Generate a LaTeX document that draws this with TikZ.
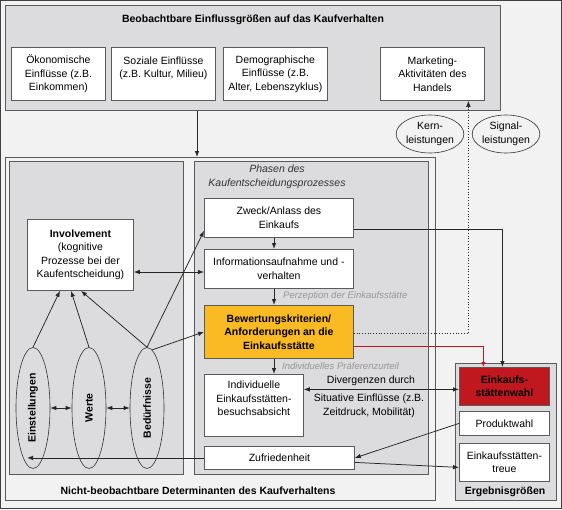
\documentclass[tikz,border=0pt]{standalone}
\usepackage{fontspec}
\setmainfont{Liberation Sans}
\usepackage{graphicx}
\usetikzlibrary{arrows.meta,shapes.geometric}
\definecolor{bggray}{RGB}{242,242,242}
\definecolor{panelgray}{RGB}{220,220,222}
\definecolor{linegray}{RGB}{90,90,90}
\definecolor{notegray}{RGB}{150,150,150}
\definecolor{bforange}{RGB}{250,186,36}
\definecolor{bfred}{RGB}{193,24,32}

\begin{document}
\begin{tikzpicture}[x=1pt,y=-1pt,
    every node/.style={font=\fontsize{10.5}{13.5}\selectfont},
    >={Latex[length=6pt,width=4.5pt]},
    panel/.style={draw=linegray,fill=panelgray,line width=.8pt,anchor=north west,inner sep=0pt},
    stage/.style={draw=linegray,fill=white,line width=.8pt,align=center,inner sep=0pt,anchor=north west},
    oval/.style={ellipse,draw=black!80,line width=.6pt,inner sep=0pt},
    heading/.style={font=\fontsize{10.5}{13.5}\selectfont\bfseries},
    note/.style={font=\fontsize{9.5}{12}\selectfont\itshape,text=notegray,anchor=west,inner sep=0pt},
    flow/.style={->,draw=black!85,line width=.75pt}]
                \useasboundingbox (0,0) rectangle (562,509);
                \draw[draw=black!75,fill=bggray] (0.5,0.5) rectangle (561.5,508.5);

                % observable influences
                \node[panel,minimum width=495,minimum height=105] (obs) at (5,5) {};
                \node[heading] at (253,20) {Beobachtbare Einflussgrößen auf das Kaufverhalten};
                \node[stage,minimum width=94,minimum height=53] (oeko) at (11,47) {Ökonomische\\Einflüsse (z.B.\\Einkommen)};
                \node[stage,minimum width=104,minimum height=53] (sozial) at (111,47) {Soziale Einflüsse\\(z.B. Kultur, Milieu)\\\mbox{}};
                \node[stage,minimum width=104,minimum height=53] (demo) at (223,47) {Demographische\\Einflüsse (z.B.\\Alter, Lebenszyklus)};
                \node[stage,minimum width=104,minimum height=53] (mkt) at (380,47) {Marketing-\\Aktivitäten des\\Handels};

                \node[oval,minimum width=66,minimum height=38,align=center] (kern) at (430,134) {Kern-\\leistungen};
                \node[oval,minimum width=66,minimum height=38,align=center] (signal) at (506,134) {Signal-\\leistungen};

                % non-observable determinants
                \node[panel,fill=bggray,minimum width=430,minimum height=343] (unobs) at (5,157) {};
                \node[panel,minimum width=174,minimum height=313] (dets) at (9,161) {};
                \node[panel,minimum width=234,minimum height=313] (phasen) at (194,161) {};
                \node[heading] at (198,491) {Nicht-beobachtbare Determinanten des Kaufverhaltens};
                \node[align=center,text=black!80,font=\fontsize{10.5}{13.5}\selectfont\itshape] at (277,177) {Phasen des\\Kaufentscheidungsprozesses};

                \node[stage,minimum width=106,minimum height=71] (invol) at (27,219) {\textbf{Involvement}\\(kognitive\\Prozesse bei der\\Kaufentscheidung)};
                \node[oval,minimum width=34,minimum height=121] (einst) at (33,408) {\rotatebox{90}{\bfseries Einstellungen}};
                \node[oval,minimum width=34,minimum height=121] (werte) at (89,408) {\rotatebox{90}{\bfseries Werte}};
                \node[oval,minimum width=34,minimum height=121] (bed) at (147,408) {\rotatebox{90}{\bfseries Bedürfnisse}};

                \node[stage,minimum width=149,minimum height=39] (zweck) at (204,198) {Zweck/Anlass des\\Einkaufs};
                \node[stage,minimum width=149,minimum height=39] (info) at (204,249) {Informationsaufnahme und -\\verhalten};
                \node[note] at (283,296) {Perzeption der Einkaufsstätte};
                \node[stage,fill=bforange,minimum width=149,minimum height=53,font=\fontsize{10.5}{13.5}\selectfont\bfseries] (bewert) at (204,305) {Bewertungskriterien/\\Anforderungen an die\\Einkaufsstätte};
                \node[note] at (282,366) {Individuelles Präferenzurteil};
                \node[stage,minimum width=99,minimum height=62] (indiv) at (204,374) {Individuelle\\Einkaufsstätten-\\besuchsabsicht\\\mbox{}};
                \node[stage,minimum width=150,minimum height=23] (zufr) at (204,446) {Zufriedenheit};

                % results
                \node[panel,minimum width=101,minimum height=137] (result) at (455,363) {};
                \node[heading] at (505,492) {Ergebnisgrößen};
                \node[stage,fill=bfred,minimum width=90,minimum height=38,font=\fontsize{10.5}{13.5}\selectfont\bfseries] (wahl) at (459,367) {Einkaufs-\\stättenwahl};
                \node[stage,minimum width=90,minimum height=24] (prod) at (459,411) {Produktwahl};
                \node[stage,minimum width=90,minimum height=38] (treue) at (459,443) {Einkaufsstätten-\\treue};

                \node (diverg) at (371,381) {Divergenzen durch};
                \node[align=center] (situ) at (369,406) {Situative Einflüsse (z.B.\\Zeitdruck, Mobilität)};

                % connectors
                \path (197,0) coordinate (dropx) (274,0) coordinate (stepx) (27,0) coordinate (backx) (0,272) coordinate (involy);
                \draw[flow] (obs.south -| dropx) -- (unobs.north -| dropx);
                \draw[flow] (zweck.south -| stepx) -- (info.north -| stepx);
                \draw[flow] (info.south -| stepx) -- (bewert.north -| stepx);
                \draw[flow] (bewert.south -| stepx) -- (indiv.north -| stepx);
                \draw[flow,<->] (invol.east |- involy) -- (info.west |- involy);
                \draw[flow] (einst.north) -- ([xshift=33pt]invol.south west);
                \draw[flow] (werte.north) -- ([xshift=44pt]invol.south west);
                \draw[flow] (bed.north) -- ([xshift=54pt]invol.south west);
                \draw[flow] (bed.north) -- ([yshift=7pt]zweck.south west);
                \draw[flow] (bed.85) -- (bewert.west);
                \draw[flow,<->] (einst.east) -- (werte.west);
                \draw[flow,<->] (werte.east) -- (bed.west);
                \draw[flow] ([yshift=-11.5pt]zweck.east) -| ([xshift=-2pt]wahl.north);
                \draw[flow,draw=bfred,line width=1.8pt,>={Latex[length=5pt,width=4.5pt]}] ([yshift=-14.5pt]bewert.east) -| ([xshift=-21pt]wahl.north);
                \draw[flow,dotted,line width=.5pt] ([yshift=-1.5pt]bewert.east) -| ([xshift=36pt]mkt.south);
                \draw[flow,<->] ([yshift=-3pt]wahl.west) -- ([yshift=-3pt]wahl.west -| indiv.east);
                \draw[flow] (prod.west) -- (zufr.east);
                \draw[flow] ([yshift=-4.5pt]zufr.east) -- ([yshift=-5pt]treue.west);
                \draw[flow] (zufr.west) -- (zufr.west -| backx);
            \end{tikzpicture}
\end{document}
